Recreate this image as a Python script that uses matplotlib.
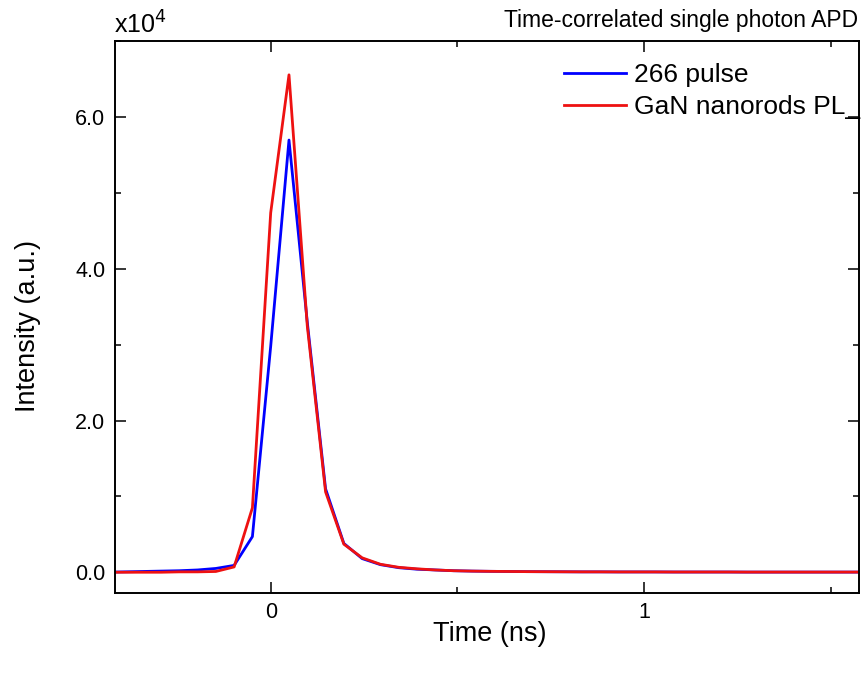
import numpy as np
import matplotlib
matplotlib.use('Agg')
import matplotlib.pyplot as plt
from matplotlib.ticker import MultipleLocator, FormatStrFormatter

plt.rcParams['font.family'] = ['Liberation Sans', 'DejaVu Sans']

# time axis (ns) of the TCSPC histogram
time_ns = [-0.441, -0.392, -0.343, -0.294, -0.245, -0.196, -0.147, -0.098, -0.049,
           0.0, 0.049, 0.098, 0.147, 0.196, 0.245, 0.294, 0.343, 0.392, 0.441,
           0.49, 0.539, 0.588, 0.637, 0.686, 0.735, 0.784, 0.833, 0.882, 0.931,
           0.98, 1.029, 1.078, 1.127, 1.176, 1.225, 1.274, 1.323, 1.372, 1.421,
           1.47, 1.519, 1.568, 1.617]

# intensities in units of 1e4 counts
pulse_266 = [0.0, 0.005, 0.01, 0.015, 0.02, 0.03, 0.05, 0.09, 0.47,
             2.98, 5.70, 3.30, 1.10, 0.38, 0.18, 0.10, 0.06, 0.04, 0.03,
             0.02, 0.015, 0.012, 0.01, 0.008, 0.007, 0.006, 0.005, 0.005, 0.004,
             0.004, 0.004, 0.003, 0.003, 0.003, 0.003, 0.002, 0.002, 0.002, 0.002,
             0.002, 0.002, 0.002, 0.002]
gan_pl = [0.0, 0.0, 0.0, 0.0, 0.005, 0.005, 0.01, 0.07, 0.85,
          4.74, 6.56, 3.25, 1.06, 0.37, 0.19, 0.105, 0.065, 0.045, 0.03,
          0.02, 0.015, 0.012, 0.01, 0.008, 0.007, 0.006, 0.005, 0.005, 0.004,
          0.004, 0.004, 0.003, 0.003, 0.003, 0.003, 0.002, 0.002, 0.002, 0.002,
          0.002, 0.002, 0.002, 0.002]

fig = plt.figure(figsize=(8.61, 6.73), dpi=100)
ax = fig.add_axes([0.1336, 0.1193, 0.8641, 0.8202])

ax.plot(time_ns, pulse_266, color='#0000ff', lw=2, label='266 pulse')
ax.plot(time_ns, gan_pl, color='#ee1111', lw=2, label='GaN nanorods PL_')

ax.set_xlim(-0.417, 1.576)
ax.set_ylim(-0.27, 7.01)

ax.xaxis.set_major_locator(MultipleLocator(1))
ax.xaxis.set_minor_locator(MultipleLocator(0.5))
ax.yaxis.set_major_locator(MultipleLocator(2))
ax.yaxis.set_minor_locator(MultipleLocator(1))
ax.yaxis.set_major_formatter(FormatStrFormatter('%.1f'))

ax.tick_params(which='both', direction='in', top=True, right=True, width=1.1, labelsize=15.5)
ax.tick_params(which='major', length=8, pad=7)
ax.tick_params(which='minor', length=4.5)
for s in ax.spines.values():
    s.set_linewidth(1.4)

ax.set_xlabel('Time (ns)', fontsize=19.5)
ax.set_ylabel('Intensity (a.u.)', fontsize=19.5)
ax.xaxis.set_label_coords(0.504, -0.051)
ax.yaxis.set_label_coords(-0.099, 0.483)

fig.text(114 / 861, 1 - 34 / 673, 'x10$^4$', fontsize=18, ha='left', va='baseline')
fig.text(858 / 861, 1 - 27 / 673, 'Time-correlated single photon APD', fontsize=16.5,
         ha='right', va='baseline')

ax.legend(loc='upper left', bbox_to_anchor=(0.604, 0.96), frameon=False, fontsize=19,
          handlelength=2.35, handletextpad=0.3, labelspacing=0.32,
          borderaxespad=0, borderpad=0)

fig.savefig('out.png', dpi=100)
